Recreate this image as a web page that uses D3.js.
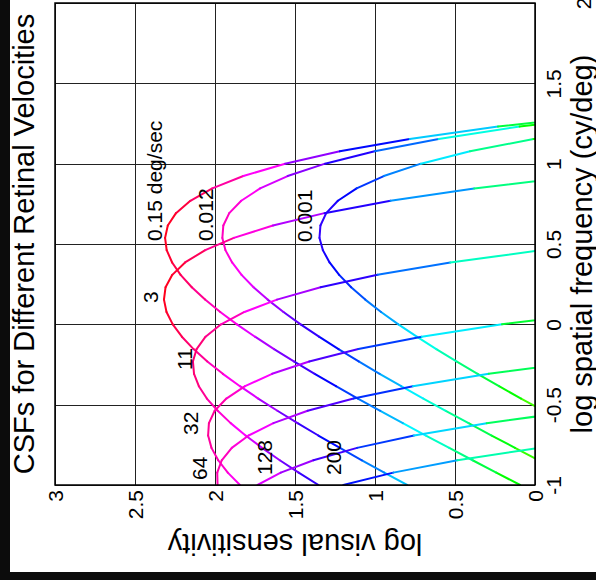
<!DOCTYPE html>
<html>
<head>
<meta charset="utf-8">
<script src="https://cdn.jsdelivr.net/npm/d3@7"></script>
<style>
  body { margin: 0; background: #000; }
  svg { display: block; font-family: "Liberation Sans", Arial, Helvetica, sans-serif; }
</style>
</head>
<body>
<div id="chart"></div>
<script>
// log spatial frequency samples (cy/deg), one every 1/13 of a decade
const logFreq = [-1, -0.923, -0.846, -0.769, -0.692, -0.615, -0.538, -0.462, -0.385, -0.308,
  -0.231, -0.154, -0.077, 0, 0.077, 0.154, 0.231, 0.308, 0.385, 0.462,
  0.538, 0.615, 0.692, 0.769, 0.846, 0.923, 1, 1.077, 1.154, 1.231, 1.308];

// log visual sensitivity per retinal velocity (null = off the chart)
const sens0001 = [null, null, null, null, null, null, -0.054, 0.087, 0.225, 0.359,
  0.491, 0.617, 0.739, 0.854, 0.962, 1.061, 1.149, 1.224, 1.284, 1.326,
  1.347, 1.341, 1.305, 1.232, 1.115, 0.945, 0.713, 0.406, 0.009, -0.494, null];
const sens0012 = [null, null, -0.023, 0.125, 0.271, 0.415, 0.558, 0.698, 0.836, 0.971,
  1.102, 1.228, 1.350, 1.465, 1.572, 1.671, 1.759, 1.834, 1.893, 1.935,
  1.954, 1.948, 1.911, 1.836, 1.718, 1.546, 1.312, 1.002, 0.602, 0.096, -0.539];
const sens015 = [0.093, 0.242, 0.390, 0.536, 0.682, 0.826, 0.967, 1.107, 1.244, 1.377,
  1.507, 1.631, 1.750, 1.863, 1.967, 2.062, 2.145, 2.215, 2.268, 2.302,
  2.312, 2.295, 2.244, 2.154, 2.017, 1.823, 1.562, 1.220, 0.783, 0.231, -0.458];
const sens3 = [0.799, 0.942, 1.082, 1.219, 1.354, 1.484, 1.610, 1.730, 1.844, 1.951,
  2.048, 2.134, 2.207, 2.264, 2.303, 2.319, 2.309, 2.267, 2.187, 2.061,
  1.882, 1.638, 1.316, 0.903, 0.380, -0.275, null, null, null, null, null];
const sens11 = [1.353, 1.477, 1.595, 1.706, 1.809, 1.902, 1.983, 2.051, 2.101, 2.131,
  2.138, 2.115, 2.059, 1.962, 1.816, 1.613, 1.340, 0.984, 0.529, -0.043];
const sens32 = [1.844, 1.920, 1.980, 2.022, 2.043, 2.038, 2.002, 1.929, 1.812, 1.643,
  1.411, 1.104, 0.708, 0.206, -0.424];
const sens64 = [1.984, 1.986, 1.958, 1.895, 1.790, 1.635, 1.421, 1.134, 0.763, 0.289, -0.306];
const sens128 = [1.734, 1.589, 1.385, 1.112, 0.756, 0.302, -0.271];
const sens200 = [1.198, 0.886, 0.485, -0.025, -0.663];

const velocityNames = ["0.001", "0.012", "0.15", "3", "11", "32", "64", "128", "200"];
const sensSeries = [sens0001, sens0012, sens015, sens3, sens11, sens32, sens64, sens128, sens200];

// curve labels, anchored in data units (sensitivity, log frequency)
const labelText = ["0.001", "0.012", "0.15 deg/sec", "3", "11", "32", "64", "128", "200"];
const labelSens = [1.394, 2.0125, 2.331, 2.356, 2.144, 2.106, 2.05, 1.644, 1.2125];
const labelFreq = [0.512, 0.519, 0.519, 0.133, -0.284, -0.689, -0.969, -0.938, -0.938];

const sensTicks = [0, 0.5, 1, 1.5, 2, 2.5, 3];
const freqTicks = [-1, -0.5, 0, 0.5, 1, 1.5, 2];

const width = 596;
const height = 580;
const plotLeft = 55, plotRight = 535, plotTop = 3, plotBottom = 485;
const font = '"Liberation Sans", Arial, Helvetica, sans-serif';

// the chart is turned a quarter turn: sensitivity runs right-to-left, frequency bottom-to-top
const x = d3.scaleLinear().domain([3, 0]).range([plotLeft, plotRight]);
const y = d3.scaleLinear().domain([-1, 2]).range([plotBottom, plotTop]);

// hsv-like colour by sensitivity at the start of each segment
const segColor = s => d3.hsl(Math.max(0, Math.min(360, 110 + 105 * s)), 1, 0.5).formatHex();

const svg = d3.select("#chart").append("svg")
    .attr("width", width)
    .attr("height", height)
    .attr("viewBox", [0, 0, width, height]);

// slide background
svg.append("rect").attr("width", width).attr("height", height).attr("fill", "#0c0c0c");
svg.append("rect").attr("x", 10).attr("y", 0).attr("width", width - 10).attr("height", 572)
    .attr("fill", "#fff");

svg.append("defs").append("clipPath").attr("id", "plot-clip")
  .append("rect")
    .attr("x", plotLeft).attr("y", plotTop)
    .attr("width", plotRight - plotLeft).attr("height", plotBottom - plotTop);

// grid
const grid = svg.append("g").attr("stroke", "#222").attr("stroke-width", 1);
grid.selectAll("line.v").data(sensTicks).join("line")
    .attr("class", "v")
    .attr("x1", d => Math.round(x(d)) + 0.5).attr("x2", d => Math.round(x(d)) + 0.5)
    .attr("y1", plotTop).attr("y2", plotBottom);
grid.selectAll("line.h").data(freqTicks).join("line")
    .attr("class", "h")
    .attr("y1", d => Math.round(y(d)) + 0.5).attr("y2", d => Math.round(y(d)) + 0.5)
    .attr("x1", plotLeft).attr("x2", plotRight);

// curves, drawn segment by segment so each piece gets its own colour
const segments = [];
sensSeries.forEach((vals, i) => {
  for (let k = 0; k < vals.length - 1; k++) {
    const a = vals[k], b = vals[k + 1];
    if (a == null || b == null) continue;
    segments.push({ curve: velocityNames[i], f1: logFreq[k], s1: a, f2: logFreq[k + 1], s2: b });
  }
});

svg.append("g")
    .attr("clip-path", "url(#plot-clip)")
    .attr("fill", "none")
    .attr("stroke-width", 2)
    .attr("stroke-linecap", "round")
  .selectAll("line")
  .data(segments)
  .join("line")
    .attr("x1", d => x(d.s1)).attr("y1", d => y(d.f1))
    .attr("x2", d => x(d.s2)).attr("y2", d => y(d.f2))
    .attr("stroke", d => segColor(d.s1));

// frame
svg.append("rect")
    .attr("x", plotLeft).attr("y", plotTop)
    .attr("width", plotRight - plotLeft).attr("height", plotBottom - plotTop)
    .attr("fill", "none").attr("stroke", "#000").attr("stroke-width", 1.5);

// sensitivity axis (bottom), labels read bottom-to-top
svg.append("g")
    .attr("transform", `translate(0,${plotBottom})`)
    .call(d3.axisBottom(x).tickValues(sensTicks).tickSize(0).tickFormat(d => String(d)))
    .call(g => g.select(".domain").remove())
    .call(g => g.selectAll(".tick text")
        .attr("transform", "rotate(-90)")
        .attr("x", -5).attr("y", 0).attr("dy", "0.35em")
        .attr("text-anchor", "end")
        .attr("fill", "#000")
        .style("font", `21px ${font}`));

// frequency axis (right), labels read bottom-to-top; the top "2" sits out by the corner
svg.append("g")
    .attr("transform", `translate(${plotRight},0)`)
    .call(d3.axisRight(y).tickValues(freqTicks).tickSize(0).tickFormat(d => String(d)))
    .call(g => g.select(".domain").remove())
    .call(g => g.selectAll(".tick text")
        .attr("transform", "rotate(-90)")
        .attr("x", 0).attr("y", d => d === 2 ? 56 : 26).attr("dy", null)
        .attr("text-anchor", "middle")
        .attr("fill", "#000")
        .style("font", `21px ${font}`));

// curve labels
svg.append("g")
    .style("font", `21px ${font}`)
    .attr("fill", "#000")
  .selectAll("text")
  .data(labelText)
  .join("text")
    .attr("transform", (d, i) => `translate(${x(labelSens[i])},${y(labelFreq[i])}) rotate(-90)`)
    .text(d => d);

// titles
svg.append("text")
    .attr("transform", `translate(34,${(plotTop + plotBottom) / 2}) rotate(-90)`)
    .attr("text-anchor", "middle")
    .style("font", `29px ${font}`)
    .text("CSFs for Different Retinal Velocities");

svg.append("text")
    .attr("transform", `translate(592,${(plotTop + plotBottom) / 2}) rotate(-90)`)
    .attr("text-anchor", "middle")
    .style("font", `29px ${font}`)
    .text("log spatial frequency (cy/deg)");

svg.append("text")
    .attr("transform", `translate(${(plotLeft + plotRight) / 2},534) rotate(180)`)
    .attr("text-anchor", "middle")
    .style("font", `29px ${font}`)
    .text("log visual sensitivity");
</script>
</body>
</html>
